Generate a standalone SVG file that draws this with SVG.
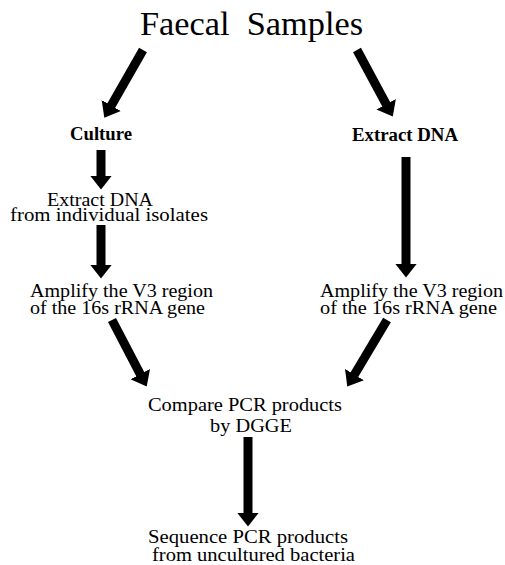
<svg xmlns="http://www.w3.org/2000/svg" width="505" height="565" viewBox="0 0 505 565">
<style>
text{font-family:'Liberation Serif','DejaVu Serif',serif;fill:#000}
.t{font-size:33px}
.b{font-size:18.5px;font-weight:bold}
.n{font-size:19px}
.c line{stroke:#000;stroke-width:9}
</style>
<defs>
<marker id="ah" markerUnits="userSpaceOnUse" viewBox="0 0 14 22" markerWidth="14" markerHeight="22" refX="0.5" refY="11" orient="auto">
<path d="M0,0 L14,11 L0,22 z" fill="#000"/>
</marker>
</defs>
<rect width="505" height="565" fill="#fff"/>
<g id="n-faecal"><text class="t" x="140" y="35" textLength="223" lengthAdjust="spacingAndGlyphs" xml:space="preserve">Faecal  Samples</text></g>
<g id="n-culture"><text class="b" x="70" y="140" textLength="62" lengthAdjust="spacingAndGlyphs">Culture</text></g>
<g id="n-extract-right"><text class="b" x="352" y="141" textLength="106" lengthAdjust="spacingAndGlyphs">Extract DNA</text></g>
<g id="n-extract-left">
<text class="n" x="47" y="206" textLength="106" lengthAdjust="spacingAndGlyphs">Extract DNA</text>
<text class="n" x="10" y="221" textLength="198" lengthAdjust="spacingAndGlyphs">from individual isolates</text>
</g>
<g id="n-amplify-left">
<text class="n" x="30" y="297" textLength="183" lengthAdjust="spacingAndGlyphs">Amplify the V3 region</text>
<text class="n" x="30" y="314" textLength="175" lengthAdjust="spacingAndGlyphs">of the 16s rRNA gene</text>
</g>
<g id="n-amplify-right">
<text class="n" x="320" y="297" textLength="183" lengthAdjust="spacingAndGlyphs">Amplify the V3 region</text>
<text class="n" x="320" y="314" textLength="177" lengthAdjust="spacingAndGlyphs">of the 16s rRNA gene</text>
</g>
<g id="n-compare">
<text class="n" x="148" y="411" textLength="194" lengthAdjust="spacingAndGlyphs">Compare PCR products</text>
<text class="n" x="210" y="432" textLength="82" lengthAdjust="spacingAndGlyphs">by DGGE</text>
</g>
<g id="n-sequence">
<text class="n" x="148" y="543" textLength="200" lengthAdjust="spacingAndGlyphs">Sequence PCR products</text>
<text class="n" x="152" y="561" textLength="203" lengthAdjust="spacingAndGlyphs">from uncultured bacteria</text>
</g>
<g id="connectors" class="c">
<line x1="143" y1="50" x2="111" y2="106" marker-end="url(#ah)"/>
<line x1="357" y1="50" x2="386.4" y2="104.7" marker-end="url(#ah)"/>
<line x1="101" y1="150" x2="101" y2="176" marker-end="url(#ah)"/>
<line x1="101" y1="225" x2="101" y2="265" marker-end="url(#ah)"/>
<line x1="406" y1="157" x2="406" y2="264" marker-end="url(#ah)"/>
<line x1="112" y1="320" x2="140.5" y2="374.6" marker-end="url(#ah)"/>
<line x1="387" y1="320" x2="354.2" y2="375" marker-end="url(#ah)"/>
<line x1="248" y1="437" x2="248" y2="513" marker-end="url(#ah)"/>
</g>
</svg>
